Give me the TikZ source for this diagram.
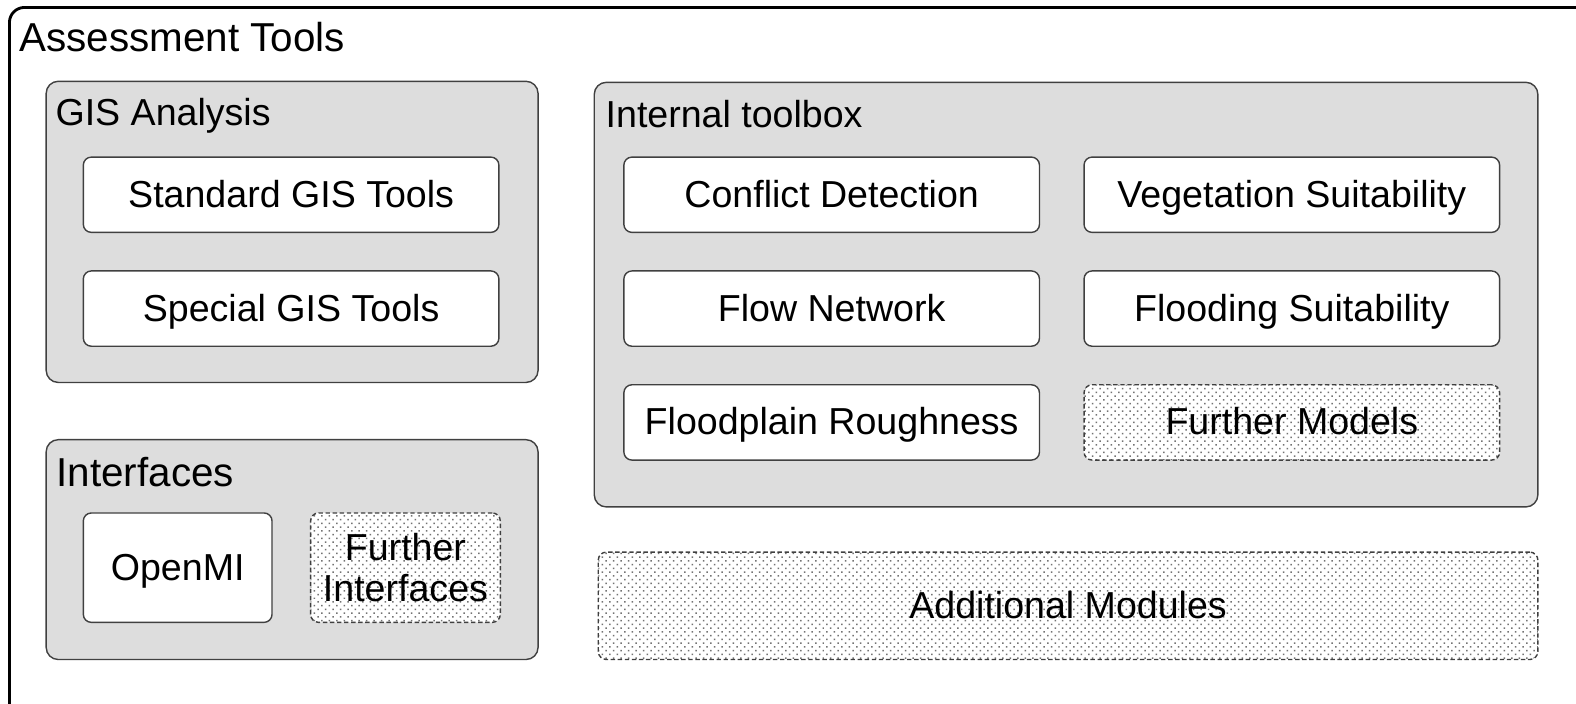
\documentclass[tikz,border=0pt]{standalone}
\usepackage{fontspec}
\setmainfont{Liberation Sans}
\usetikzlibrary{positioning}
\usetikzlibrary{patterns.meta}
\definecolor{panelgray}{RGB}{221,221,221}

\begin{document}
\begin{tikzpicture}[
node distance = 0.74cm,
font=\fontsize{21.3}{23.5}\selectfont,
frame/.style={rectangle, rounded corners=0.3cm, draw, line width=1.6pt, minimum width=31.8cm, minimum height=14.4cm, anchor=north west},
panel/.style={rectangle, rounded corners=0.24cm, draw=black!75, line width=0.8pt, fill=panelgray, inner sep=0pt},
box/.style={rectangle, rounded corners=0.16cm, draw=black!75, line width=0.8pt, fill=white, inner sep=0pt},
tool/.style={box, minimum width=8.28cm, minimum height=1.5cm, text height=0.5cm, text depth=0cm},
dots/.style={dash pattern=on 2.5pt off 1.5pt, preaction={fill=white}, pattern={Dots[radius=0.6pt, distance=3pt, angle=45]}, pattern color=black!55},
extra/.style={tool, dots},
title/.style={anchor=base west, inner sep=0pt},
bigtitle/.style={title, font=\fontsize{22.9}{25}\selectfont}]
\useasboundingbox (0,0) rectangle (31.40,-14.007);
\node [frame] (assess) at (0.16,-0.12) {};
\node [bigtitle] (assesstitle) at (0.38,-1.02) {Assessment Tools};

% GIS Analysis
\node [panel, minimum width=9.8cm, minimum height=6cm] (gis) at (5.82,-4.62) {};
\node [title] (gistitle) at (1.10,-2.50) {GIS Analysis};
\node [tool] (std) [below right=1.51cm and 0.74cm of gis.north west, anchor=north west] {Standard GIS Tools};
\node [tool] (spec) [below=of std] {Special GIS Tools};

% Interfaces
\node [panel, minimum width=9.8cm, minimum height=4.38cm] (iface) at (5.82,-10.95) {};
\node [bigtitle] (ifacetitle) at (1.12,-9.70) {Interfaces};
\node [tool, minimum width=3.76cm, minimum height=2.18cm] (openmi) [below right=1.46cm and 0.74cm of iface.north west, anchor=north west] {OpenMI};
\node [box, dots, minimum width=3.78cm, minimum height=2.18cm, align=center] (furtheriface) [right=of openmi] {Further\\Interfaces};

% Internal toolbox
\node [panel, minimum width=18.8cm, minimum height=8.46cm] (tbx) at (21.24,-5.87) {};
\node [title] (tbxtitle) at (12.06,-2.54) {Internal toolbox};
\node [tool] (conflict) [below right=1.49cm and 0.59cm of tbx.north west, anchor=north west] {Conflict Detection};
\node [tool] (veg) [right=0.86cm of conflict] {Vegetation Suitability};
\node [tool] (flow) [below=of conflict] {Flow Network};
\node [tool] (flood) [below=of veg] {Flooding Suitability};
\node [tool] (rough) [below=of flow] {Floodplain Roughness};
\node [extra] (furthermodels) [below=of flood] {Further Models};

\node [extra, minimum width=18.72cm, minimum height=2.14cm] (addmod) at (21.28,-12.07) {Additional Modules};
\end{tikzpicture}
\end{document}
